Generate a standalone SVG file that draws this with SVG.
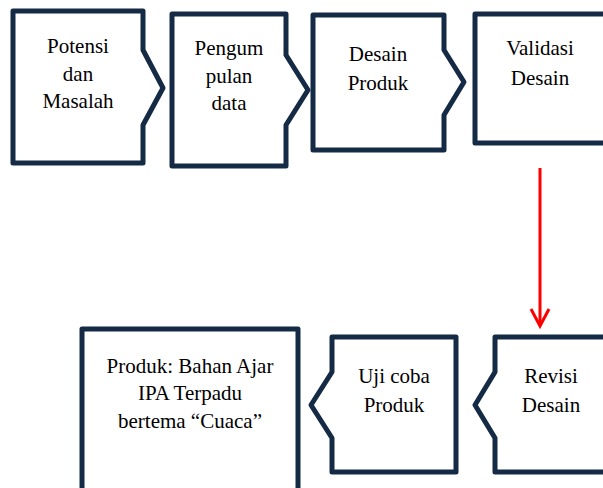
<svg xmlns="http://www.w3.org/2000/svg" width="603" height="488" viewBox="0 0 603 488">
  <defs>
    <style>
      .box { fill: #ffffff; stroke: #152a45; stroke-width: 5; stroke-linejoin: round; }
      .lbl { font-family: "Liberation Serif", "Times New Roman", serif; font-size: 21px; fill: #000000; text-anchor: middle; }
      .conn { fill: none; stroke: #ff0000; stroke-width: 3; }
    </style>
  </defs>
  <rect width="603" height="488" fill="#ffffff"/>

  <g id="node-potensi">
    <path class="box" d="M13,11 L143,11 L143,50 L163,88 L143,125 L143,163 L13,163 Z"/>
    <text class="lbl" x="78" y="53">Potensi</text>
    <text class="lbl" x="78" y="81">dan</text>
    <text class="lbl" x="78" y="108">Masalah</text>
  </g>

  <g id="node-pengumpulan">
    <path class="box" d="M172,14 L286,14 L286,55 L308,90 L286,125 L286,166 L172,166 Z"/>
    <text class="lbl" x="229" y="55">Pengum</text>
    <text class="lbl" x="229" y="83">pulan</text>
    <text class="lbl" x="229" y="110">data</text>
  </g>

  <g id="node-desain">
    <path class="box" d="M313,15 L444,15 L444,50 L464,82 L444,115 L444,150 L313,150 Z"/>
    <text class="lbl" x="378" y="61">Desain</text>
    <text class="lbl" x="378" y="90">Produk</text>
  </g>

  <g id="node-validasi">
    <path class="box" d="M620,14 L475,14 L475,143 L620,143"/>
    <text class="lbl" x="540" y="55">Validasi</text>
    <text class="lbl" x="540" y="85">Desain</text>
  </g>

  <g id="node-revisi">
    <path class="box" d="M620,337 L495,337 L495,372 L475,405 L495,438 L495,472 L620,472"/>
    <text class="lbl" x="551" y="383">Revisi</text>
    <text class="lbl" x="551" y="412">Desain</text>
  </g>

  <g id="node-ujicoba">
    <path class="box" d="M456,337 L332,337 L332,372 L311,405 L332,438 L332,472 L456,472 Z"/>
    <text class="lbl" x="394" y="383">Uji coba</text>
    <text class="lbl" x="394" y="412">Produk</text>
  </g>

  <g id="node-produk">
    <path class="box" d="M82,500 L82,329 L298,329 L298,500"/>
    <text class="lbl" x="190" y="373">Produk: Bahan Ajar</text>
    <text class="lbl" x="190" y="400">IPA Terpadu</text>
    <text class="lbl" x="190" y="428">bertema “Cuaca”</text>
  </g>

  <g id="connectors">
    <line class="conn" x1="540" y1="168" x2="540" y2="326"/>
    <polyline class="conn" points="531,309 540,326 549,309"/>
  </g>
</svg>
